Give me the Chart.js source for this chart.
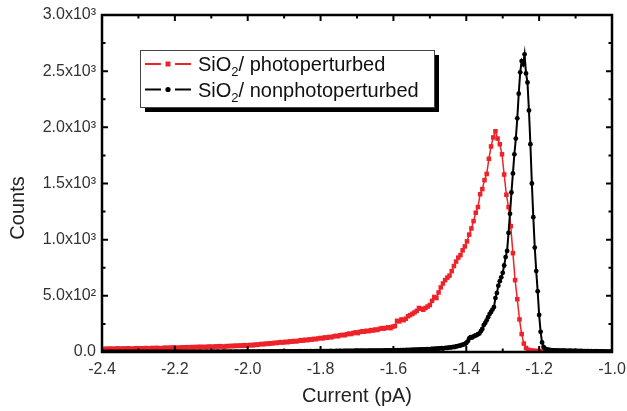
<!DOCTYPE html>
<html>
<head>
<meta charset="utf-8">
<script src="https://cdn.jsdelivr.net/npm/chart.js@4.4.1/dist/chart.umd.min.js"></script>
<style>
  html, body { margin: 0; padding: 0; background: #fff; }
  #wrap { width: 627px; height: 411px; position: relative; }
</style>
</head>
<body>
<div id="wrap"><canvas id="histChart"></canvas></div>
<script>
// current histograms, bins given by start + i * step (pA)
const photoStart = -2.4;
const photoStep = 0.006;
const photoCounts = [
    28, 25, 30, 27, 31, 26, 29, 32, 28, 30,
    31, 29, 33, 30, 27, 32, 34, 30, 33, 31,
    35, 32, 30, 36, 33, 37, 34, 31, 36, 38,
    35, 39, 37, 41, 38, 36, 40, 42, 39, 43,
    41, 44, 40, 45, 43, 47, 42, 46, 44, 48,
    47, 45, 50, 48, 52, 49, 46, 53, 51, 55,
    52, 57, 54, 58, 55, 61, 57, 60, 63, 59,
    66, 63, 68, 72, 69, 75, 72, 78, 76, 82,
    80, 85, 88, 84, 91, 87, 95, 92, 98, 94,
    100, 106, 101, 109, 105, 113, 110, 117, 114, 121,
    125, 121, 130, 127, 134, 131, 139, 144, 140, 149,
    153, 149, 158, 164, 160, 169, 175, 168, 179, 184,
    181, 189, 185, 195, 191, 200, 196, 206, 213, 208,
    214, 220, 212, 226, 231, 278, 272, 290, 283, 296,
    318, 328, 340, 352, 366, 392, 385, 376, 392, 405,
    418, 455, 490, 480, 530, 575, 610, 640, 662, 680,
    720, 765, 805, 840, 862, 905, 940, 985, 1045, 1100,
    1165, 1240, 1290, 1405, 1450, 1530, 1585, 1720, 1830, 1910,
    1965, 1900, 1850, 1760, 1580, 1400, 1290, 1120, 880, 640,
    470, 290, 160, 75, 35, 20, 14, 12, 10, 9,
    8, 8, 7
];

const darkStart = -2.4;
const darkStep = 0.004;
const darkCounts = [
    0, 1, 0, 0, 1, 0, 1, 0, 0, 1,
    0, 0, 1, 1, 0, 1, 0, 0, 1, 0,
    1, 0, 1, 0, 1, 1, 0, 1, 0, 1,
    1, 1, 0, 1, 2, 1, 0, 1, 1, 2,
    1, 2, 1, 1, 0, 2, 1, 1, 2, 1,
    2, 1, 1, 2, 1, 2, 2, 1, 1, 2,
    1, 2, 2, 1, 2, 2, 1, 3, 2, 2,
    2, 2, 3, 2, 1, 2, 3, 2, 2, 3,
    3, 2, 2, 3, 3, 2, 3, 2, 3, 3,
    2, 3, 3, 3, 2, 4, 3, 3, 3, 4,
    3, 4, 3, 3, 4, 3, 4, 4, 5, 3,
    4, 5, 4, 4, 5, 4, 5, 5, 4, 5,
    4, 5, 5, 6, 5, 5, 6, 5, 6, 6,
    5, 6, 6, 6, 5, 6, 7, 6, 6, 7,
    6, 7, 6, 7, 7, 6, 7, 8, 7, 7,
    7, 8, 7, 8, 8, 7, 8, 9, 8, 8,
    8, 9, 8, 9, 9, 8, 9, 10, 9, 10,
    9, 10, 9, 10, 11, 10, 11, 10, 11, 11,
    10, 11, 10, 11, 12, 11, 12, 12, 13, 12,
    12, 13, 12, 13, 14, 13, 14, 14, 13, 15,
    14, 15, 14, 16, 15, 16, 17, 16, 17, 18,
    17, 18, 19, 18, 20, 19, 21, 20, 22, 23,
    22, 24, 23, 25, 26, 24, 27, 28, 27, 29,
    30, 29, 32, 34, 31, 35, 37, 36, 39, 41,
    42, 45, 44, 49, 53, 55, 58, 63, 66, 72,
    80, 95, 120, 132, 128, 138, 145, 150, 158, 164,
    185, 205, 240, 258, 282, 310, 338, 356, 378, 400,
    480, 525, 590, 630, 665, 705, 770, 845, 900, 1060,
    1230, 1420, 1590, 1760, 1900, 2080, 2300, 2490, 2590, 2560,
    2650, 2480, 2400, 2150, 1850, 1500, 1200, 930, 720, 540,
    330, 180, 85, 45, 30, 24, 20, 18, 16, 15,
    14, 13, 14, 12, 13, 12, 11, 12, 11, 10,
    10, 11, 9, 10, 9, 10, 8, 9, 8, 9,
    8, 7, 8, 7, 7, 6, 7, 6, 6, 7,
    6, 5, 6, 5, 5, 4, 5, 4, 4, 5,
    4
];

const seriesLabels = ['SiO\u2082/ photoperturbed', 'SiO\u2082/ nonphotoperturbed'];
const xTicks = [-2.4, -2.2, -2.0, -1.8, -1.6, -1.4, -1.2, -1.0];
const yTicks = [0, 500, 1000, 1500, 2000, 2500, 3000];
const yTickLabels = ['0.0', '5.0x10\u00b2', '1.0x10\u00b3', '1.5x10\u00b3', '2.0x10\u00b3', '2.5x10\u00b3', '3.0x10\u00b3'];

const FONT = "'Liberation Sans', Arial, Helvetica, sans-serif";
Chart.defaults.font.family = FONT;

function toPoints(start, step, counts) {
    return counts.map((c, i) => ({ x: +(start + i * step).toFixed(4), y: c }));
}

// boxed frame with inward major/minor ticks on all four sides
const frameTicks = {
    id: 'frameTicks',
    afterDatasetsDraw(chart) {
        const { ctx, chartArea: a, scales: { x, y } } = chart;
        const major = 6, minor = 3.5;
        ctx.save();
        ctx.strokeStyle = '#000';
        ctx.lineWidth = 2;
        ctx.beginPath();
        for (let i = 0; i < xTicks.length; i++) {
            let px = x.getPixelForValue(xTicks[i]);
            ctx.moveTo(px, a.bottom); ctx.lineTo(px, a.bottom - major);
            ctx.moveTo(px, a.top); ctx.lineTo(px, a.top + major);
            if (i < xTicks.length - 1) {
                px = x.getPixelForValue((xTicks[i] + xTicks[i + 1]) / 2);
                ctx.moveTo(px, a.bottom); ctx.lineTo(px, a.bottom - minor);
                ctx.moveTo(px, a.top); ctx.lineTo(px, a.top + minor);
            }
        }
        for (let i = 0; i < yTicks.length; i++) {
            let py = y.getPixelForValue(yTicks[i]);
            ctx.moveTo(a.left, py); ctx.lineTo(a.left + major, py);
            ctx.moveTo(a.right, py); ctx.lineTo(a.right - major, py);
            if (i < yTicks.length - 1) {
                py = y.getPixelForValue((yTicks[i] + yTicks[i + 1]) / 2);
                ctx.moveTo(a.left, py); ctx.lineTo(a.left + minor, py);
                ctx.moveTo(a.right, py); ctx.lineTo(a.right - minor, py);
            }
        }
        ctx.stroke();
        ctx.lineWidth = 2.5;
        ctx.strokeRect(a.left, a.top, a.right - a.left, a.bottom - a.top);

        // y axis title, sits a little below the middle of the axis
        ctx.translate(18, 208);
        ctx.rotate(-Math.PI / 2);
        ctx.fillStyle = '#222';
        ctx.font = '20px ' + FONT;
        ctx.textAlign = 'center';
        ctx.textBaseline = 'middle';
        ctx.fillText('Counts', 0, 0);
        ctx.restore();
    }
};

// legend box with drop shadow, subscript drawn lowered
const boxLegend = {
    id: 'boxLegend',
    afterDraw(chart) {
        const ctx = chart.ctx;
        const bx = 140, by = 50, bw = 294, bh = 57;
        ctx.save();
        ctx.fillStyle = '#000';
        ctx.fillRect(bx + 5, by + 5, bw, bh);
        ctx.fillStyle = '#fff';
        ctx.fillRect(bx, by, bw, bh);
        ctx.strokeStyle = '#444';
        ctx.lineWidth = 1;
        ctx.strokeRect(bx + 0.5, by + 0.5, bw, bh);

        chart.data.datasets.forEach((ds, i) => {
            const cy = by + 14 + i * 25.5;
            const mx = 168;
            ctx.strokeStyle = ds.borderColor;
            ctx.fillStyle = ds.borderColor;
            ctx.lineWidth = 2;
            ctx.beginPath();
            ctx.moveTo(145, cy); ctx.lineTo(mx - 7, cy);
            ctx.moveTo(mx + 7, cy); ctx.lineTo(191, cy);
            ctx.stroke();
            if (ds.pointStyle === 'rect') {
                ctx.fillRect(mx - 2.5, cy - 2.5, 5, 5);
            } else {
                ctx.beginPath();
                ctx.arc(mx, cy, 2.6, 0, Math.PI * 2);
                ctx.fill();
            }

            const parts = ds.label.split('\u2082');
            let tx = 198;
            ctx.fillStyle = '#111';
            ctx.textBaseline = 'alphabetic';
            ctx.textAlign = 'left';
            ctx.font = '20px ' + FONT;
            ctx.fillText(parts[0], tx, cy + 7);
            tx += ctx.measureText(parts[0]).width;
            ctx.font = '13px ' + FONT;
            ctx.fillText('2', tx, cy + 12);
            tx += ctx.measureText('2').width;
            ctx.font = '20px ' + FONT;
            ctx.fillText(parts[1], tx, cy + 7);
        });
        ctx.restore();
    }
};

const ctx = document.getElementById('histChart').getContext('2d');
const histChart = new Chart(ctx, {
    type: 'line',
    data: {
        datasets: [{
            label: seriesLabels[0],
            data: toPoints(photoStart, photoStep, photoCounts),
            borderColor: '#ee2229',
            backgroundColor: '#ee2229',
            borderWidth: 1.5,
            pointStyle: 'rect',
            pointRadius: 3.2,
            pointBorderWidth: 0,
            order: 2
        }, {
            label: seriesLabels[1],
            data: toPoints(darkStart, darkStep, darkCounts),
            borderColor: '#000',
            backgroundColor: '#000',
            borderWidth: 2,
            pointStyle: 'circle',
            pointRadius: 2.4,
            pointBorderWidth: 0,
            order: 1
        }]
    },
    options: {
        responsive: true,
        maintainAspectRatio: false,
        devicePixelRatio: 1,
        animation: false,
        layout: { padding: { top: 15, right: 15, left: 0, bottom: 0 } },
        plugins: {
            legend: { display: false },
            tooltip: { enabled: false }
        },
        elements: { line: { tension: 0 } },
        scales: {
            x: {
                type: 'linear',
                min: -2.4,
                max: -1.0,
                afterFit: s => { s.height = 59; s.paddingLeft = 0; s.paddingRight = 0; },
                afterBuildTicks: s => { s.ticks = xTicks.map(v => ({ value: v })); },
                grid: { display: false, drawTicks: false },
                border: { display: false },
                ticks: {
                    padding: 8,
                    color: '#333',
                    font: { size: 16 },
                    maxRotation: 0,
                    callback: v => v.toFixed(1)
                },
                title: {
                    display: true,
                    text: 'Current (pA)',
                    color: '#222',
                    font: { size: 20 },
                    padding: { top: 0, bottom: 3 }
                }
            },
            y: {
                min: 0,
                max: 3000,
                afterFit: s => { s.width = 102; s.paddingTop = 0; s.paddingBottom = 0; },
                afterBuildTicks: s => { s.ticks = yTicks.map(v => ({ value: v })); },
                grid: { display: false, drawTicks: false },
                border: { display: false },
                ticks: {
                    padding: 6,
                    color: '#333',
                    font: { size: 16 },
                    callback: v => yTickLabels[yTicks.indexOf(v)]
                }
            }
        }
    },
    plugins: [frameTicks, boxLegend]
});
</script>
</body>
</html>
